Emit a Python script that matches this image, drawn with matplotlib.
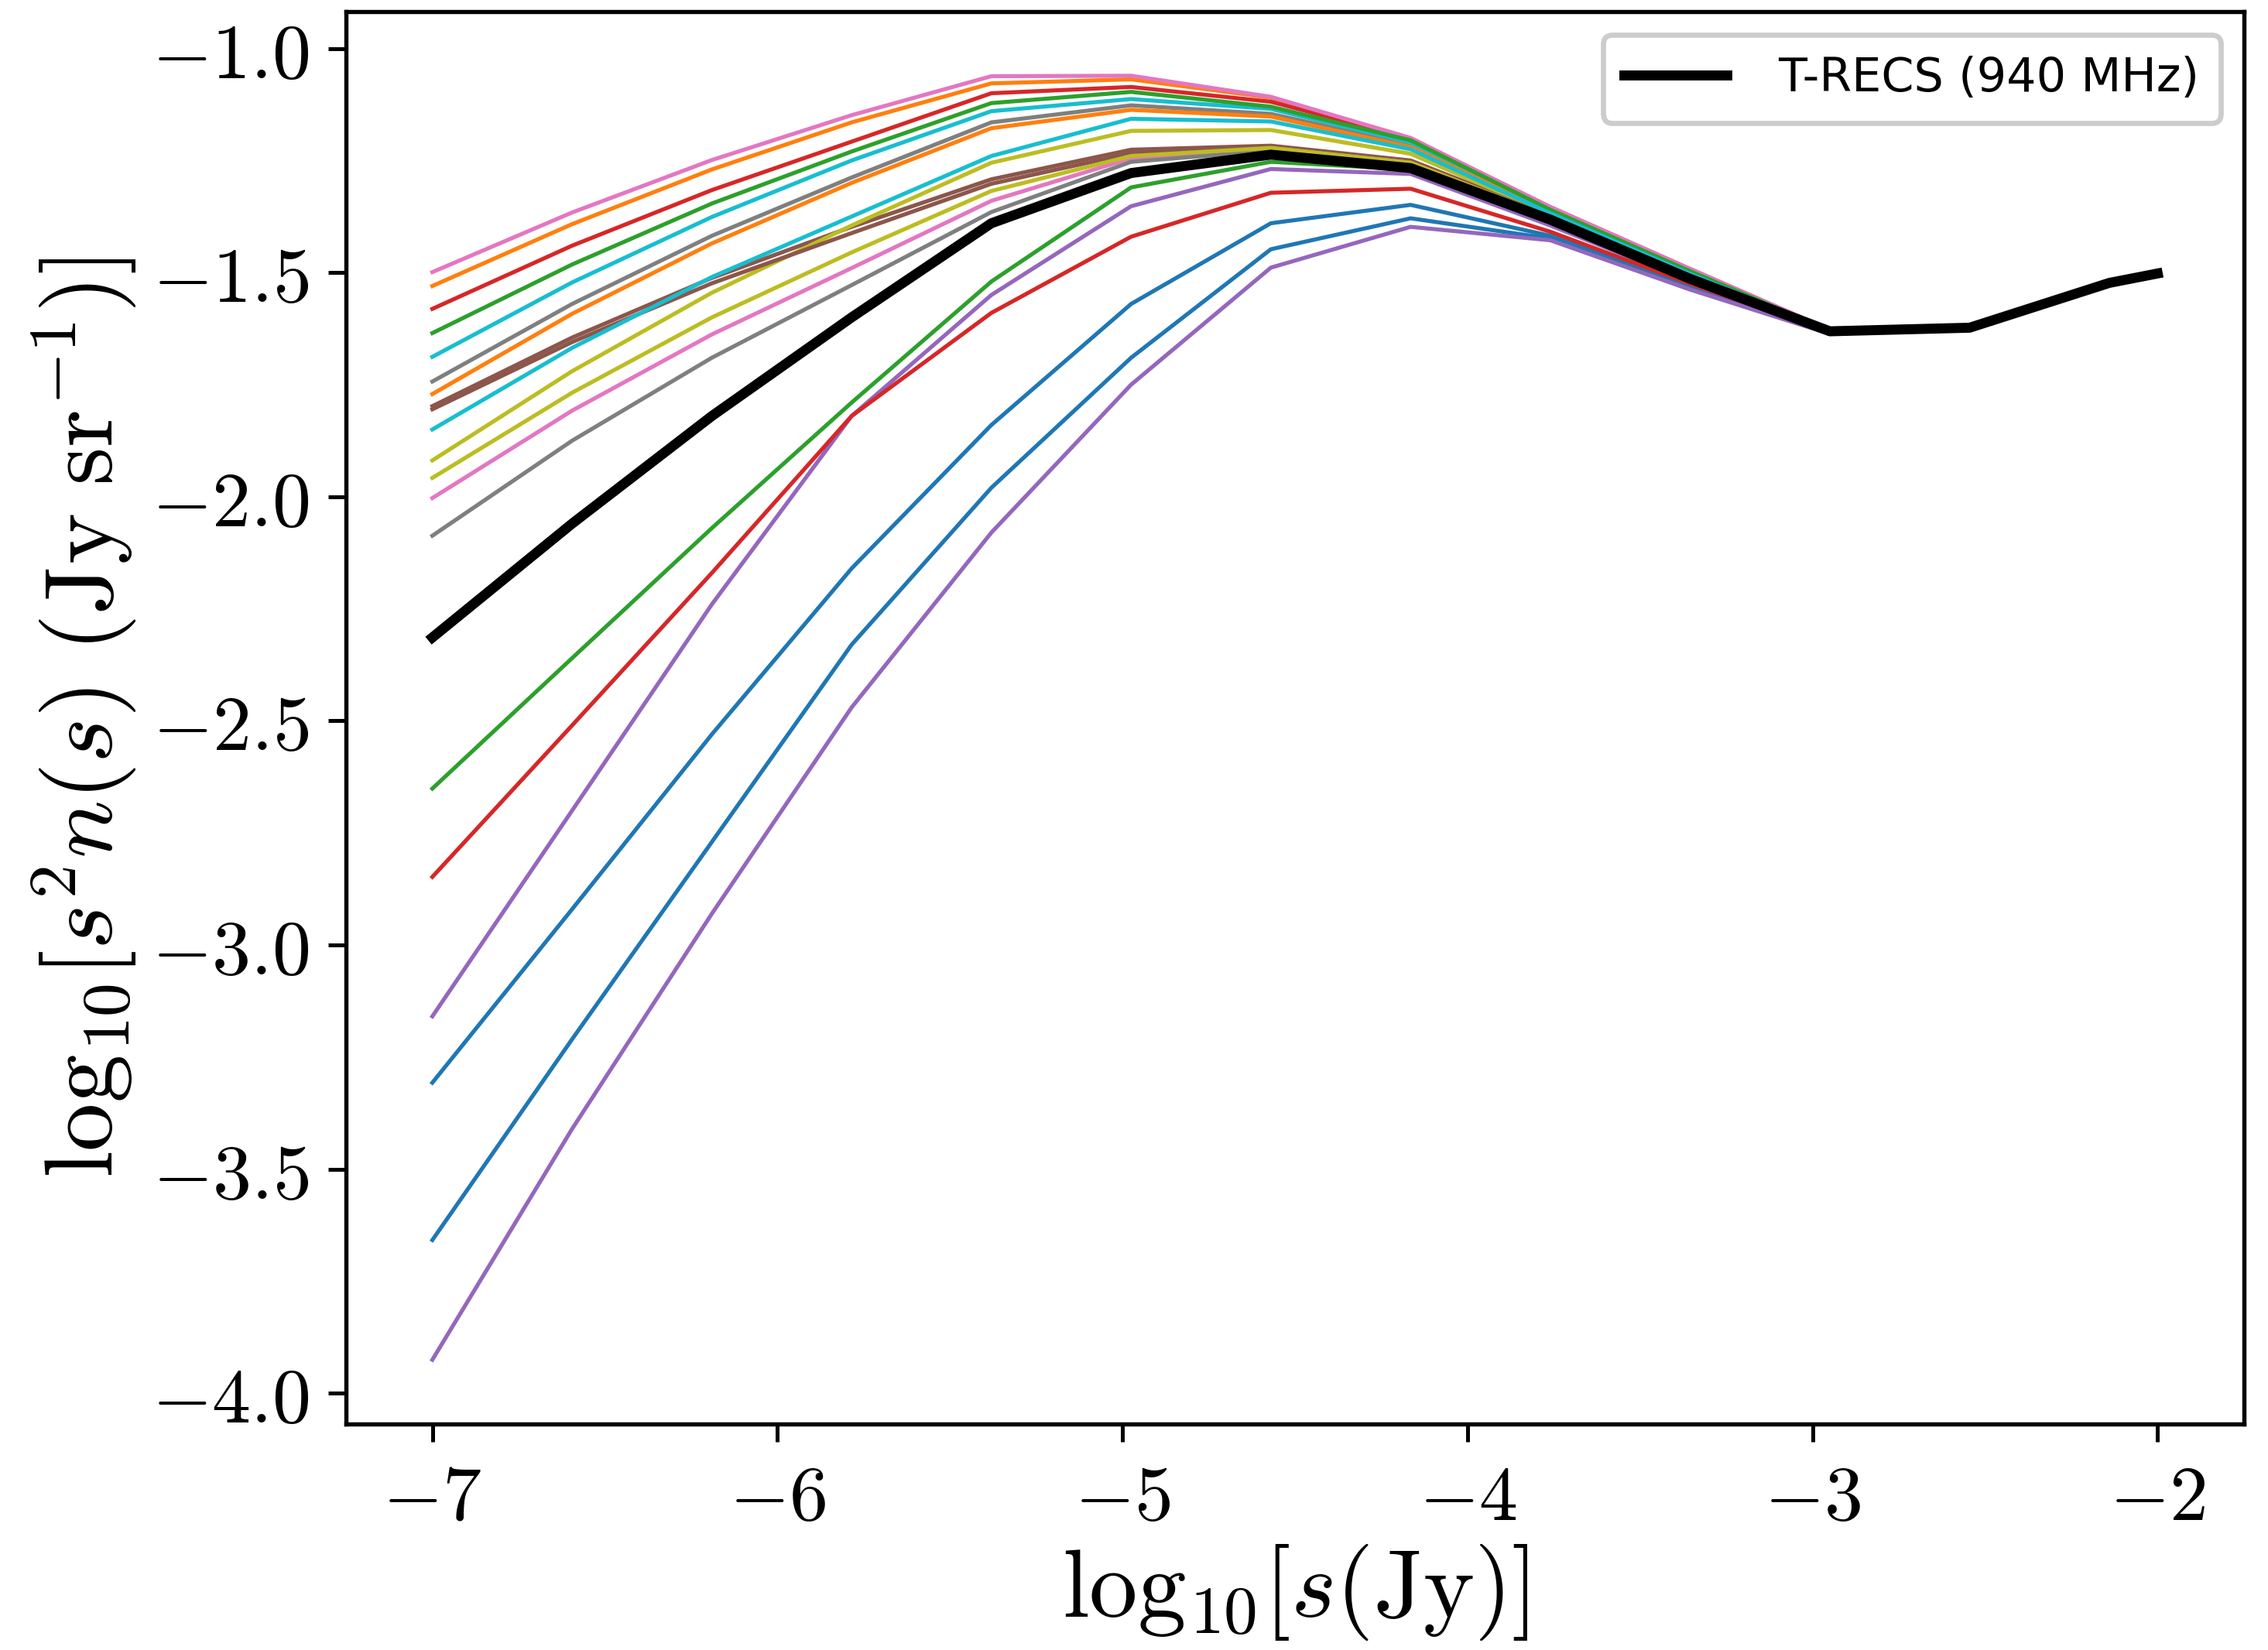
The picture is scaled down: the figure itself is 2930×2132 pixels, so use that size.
import matplotlib
matplotlib.use("Agg")
import matplotlib.pyplot as plt
from matplotlib.ticker import FuncFormatter

plt.rcParams['mathtext.fontset'] = 'cm'
plt.rcParams['font.family'] = ['DejaVu Sans']

# log10 flux grid (Jy) shared by all curves
x_grid = [-7.0, -6.595, -6.19, -5.785, -5.38, -4.975, -4.57, -4.165, -3.76, -3.355, -2.95]
x_tail = [-2.545, -2.14, -2.0]

# T-RECS reference curve
trecs = [-2.314, -2.06, -1.82, -1.60, -1.39, -1.278, -1.237, -1.267, -1.382, -1.514, -1.631]
trecs_tail = [-1.623, -1.523, -1.502]

# model curves, in plotting order (default colour cycle)
blue_a    = [-3.307, -2.92, -2.53, -2.16, -1.84, -1.57, -1.390, -1.349, -1.418, -1.530, -1.635]
orange_a  = [-1.530, -1.392, -1.270, -1.165, -1.078, -1.069, -1.110, -1.200, -1.356, -1.494, -1.628]
green_a   = [-2.651, -2.36, -2.07, -1.79, -1.52, -1.310, -1.253, -1.270, -1.385, -1.516, -1.632]
red_a     = [-1.581, -1.440, -1.316, -1.208, -1.100, -1.086, -1.119, -1.201, -1.354, -1.492, -1.628]
purple_a  = [-3.159, -2.70, -2.24, -1.82, -1.55, -1.352, -1.269, -1.280, -1.395, -1.520, -1.632]
brown_a   = [-1.798, -1.645, -1.512, -1.398, -1.292, -1.226, -1.217, -1.250, -1.372, -1.506, -1.630]
pink_a    = [-1.499, -1.366, -1.249, -1.149, -1.062, -1.061, -1.108, -1.200, -1.354, -1.492, -1.628]
gray_a    = [-1.743, -1.570, -1.418, -1.288, -1.165, -1.127, -1.146, -1.215, -1.365, -1.500, -1.630]
olive_a   = [-1.919, -1.720, -1.545, -1.395, -1.255, -1.184, -1.182, -1.235, -1.370, -1.505, -1.630]
cyan_a    = [-1.688, -1.522, -1.376, -1.250, -1.140, -1.113, -1.135, -1.210, -1.362, -1.498, -1.629]
blue_b    = [-3.658, -3.21, -2.77, -2.33, -1.98, -1.69, -1.448, -1.379, -1.424, -1.535, -1.636]
orange_b  = [-1.771, -1.592, -1.435, -1.300, -1.178, -1.137, -1.152, -1.220, -1.366, -1.501, -1.630]
green_b   = [-1.635, -1.482, -1.346, -1.230, -1.122, -1.097, -1.130, -1.205, -1.360, -1.497, -1.629]
red_b     = [-2.848, -2.51, -2.17, -1.82, -1.59, -1.420, -1.322, -1.313, -1.409, -1.525, -1.633]
purple_b  = [-3.925, -3.41, -2.93, -2.47, -2.08, -1.75, -1.489, -1.398, -1.428, -1.538, -1.637]
brown_b   = [-1.805, -1.655, -1.524, -1.412, -1.302, -1.234, -1.220, -1.253, -1.374, -1.507, -1.630]
pink_b    = [-2.003, -1.808, -1.638, -1.490, -1.340, -1.245, -1.223, -1.255, -1.377, -1.509, -1.630]
gray_b    = [-2.087, -1.875, -1.690, -1.528, -1.365, -1.253, -1.228, -1.260, -1.378, -1.510, -1.631]
olive_b   = [-1.958, -1.768, -1.600, -1.455, -1.318, -1.240, -1.222, -1.255, -1.376, -1.508, -1.630]
cyan_b    = [-1.850, -1.668, -1.510, -1.375, -1.240, -1.157, -1.163, -1.225, -1.368, -1.503, -1.630]

models = [blue_a, orange_a, green_a, red_a, purple_a, brown_a, pink_a, gray_a, olive_a, cyan_a,
          blue_b, orange_b, green_b, red_b, purple_b, brown_b, pink_b, gray_b, olive_b, cyan_b]

legend_label = "T-RECS (940 MHz)"
x_ticks = [-7, -6, -5, -4, -3, -2]
y_ticks = [-4.0, -3.5, -3.0, -2.5, -2.0, -1.5, -1.0]

fig = plt.figure(figsize=(2930 / 300, 2132 / 300), dpi=300)
ax = fig.add_axes([0.1526, 0.137, 0.9894 - 0.1526, 0.993 - 0.137])

xs = x_grid + x_tail
for m in models:
    ax.plot(xs, m + trecs_tail, lw=1.25)
ax.plot(xs, trecs + trecs_tail, color='black', lw=3.1, label=legend_label, zorder=5)

ax.set_xticks(x_ticks)
ax.set_yticks(y_ticks)
ax.xaxis.set_major_formatter(FuncFormatter(lambda v, p: r'$%d$' % round(v)))
ax.yaxis.set_major_formatter(FuncFormatter(lambda v, p: r'$%.1f$' % v))
ax.tick_params(axis='both', which='major', labelsize=24, length=5.5, width=1.2, pad=6)
for sp in ax.spines.values():
    sp.set_linewidth(1.3)

ax.set_xlabel(r'$\mathrm{log}_{10}[s(\mathrm{Jy})]$', fontsize=30, labelpad=2)
ax.set_ylabel(r'$\mathrm{log}_{10}[s^2n(s)\ (\mathrm{Jy\ sr}^{-1})]$', fontsize=30, labelpad=4)

leg = ax.legend(loc='upper right', fontsize=14.5, handlelength=2.2, borderaxespad=0.5,
                fancybox=True, framealpha=1.0, borderpad=0.45, handletextpad=1.1)
leg.get_frame().set_edgecolor('0.8')
leg.get_frame().set_linewidth(1.6)

fig.savefig('out.png', dpi=300)
